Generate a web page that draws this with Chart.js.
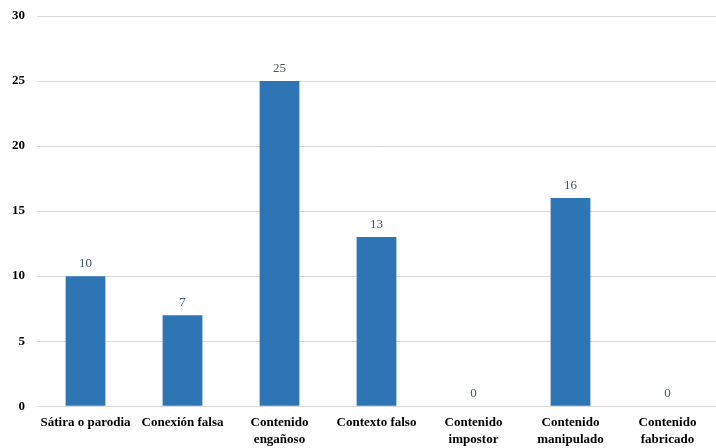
<!DOCTYPE html>
<html>
<head>
<meta charset="utf-8">
<script src="https://cdn.jsdelivr.net/npm/chart.js@4"></script>
<style>
  html, body { margin: 0; padding: 0; background: #fff; }
  #wrap { width: 716px; height: 448px; }
</style>
</head>
<body>
<div id="wrap"><canvas id="bars"></canvas></div>
<script>
const categories = [
    "Sátira o parodia",
    "Conexión falsa",
    ["Contenido", "engañoso"],
    "Contexto falso",
    ["Contenido", "impostor"],
    ["Contenido", "manipulado"],
    ["Contenido", "fabricado"]
];
const counts = [10, 7, 25, 13, 0, 16, 0];
const yTicks = [0, 5, 10, 15, 20, 25, 30];

const serif = "'Liberation Serif', 'DejaVu Serif', serif";

// value labels above each bar
const valueLabels = {
    id: "valueLabels",
    afterDatasetsDraw(chart) {
        const ctx = chart.ctx;
        const meta = chart.getDatasetMeta(0);
        ctx.save();
        ctx.font = "13px " + serif;
        ctx.fillStyle = "#44546A";
        ctx.textAlign = "center";
        ctx.textBaseline = "bottom";
        meta.data.forEach((bar, i) => {
            ctx.fillText(String(counts[i]), bar.x, bar.y - 6);
        });
        ctx.restore();
    }
};

function render() {
    new Chart(document.getElementById("bars"), {
        type: "bar",
        data: {
            labels: categories,
            datasets: [{
                data: counts,
                backgroundColor: "#2E75B6",
                barPercentage: 0.82,
                categoryPercentage: 0.5
            }]
        },
        options: {
            responsive: true,
            maintainAspectRatio: false,
            animation: false,
            layout: { padding: 0 },
            plugins: {
                legend: { display: false },
                tooltip: { enabled: false }
            },
            scales: {
                x: {
                    grid: { display: false },
                    border: { display: false },
                    ticks: {
                        color: "#000",
                        font: { family: serif, size: 13, weight: "bold", lineHeight: 1.3 },
                        maxRotation: 0,
                        autoSkip: false,
                        padding: 0
                    }
                },
                y: {
                    min: yTicks[0],
                    max: yTicks[yTicks.length - 1],
                    afterBuildTicks: (axis) => {
                        axis.ticks = yTicks.map((v) => ({ value: v }));
                    },
                    afterFit: (axis) => {
                        axis.paddingTop = 16;
                    },
                    grid: { color: "#D9D9D9", lineWidth: 1, drawTicks: false },
                    border: { display: false },
                    ticks: {
                        color: "#000",
                        font: { family: serif, size: 13, weight: "bold" },
                        padding: 12
                    }
                }
            }
        },
        plugins: [valueLabels]
    });
}

document.addEventListener("DOMContentLoaded", render);
</script>
</body>
</html>
